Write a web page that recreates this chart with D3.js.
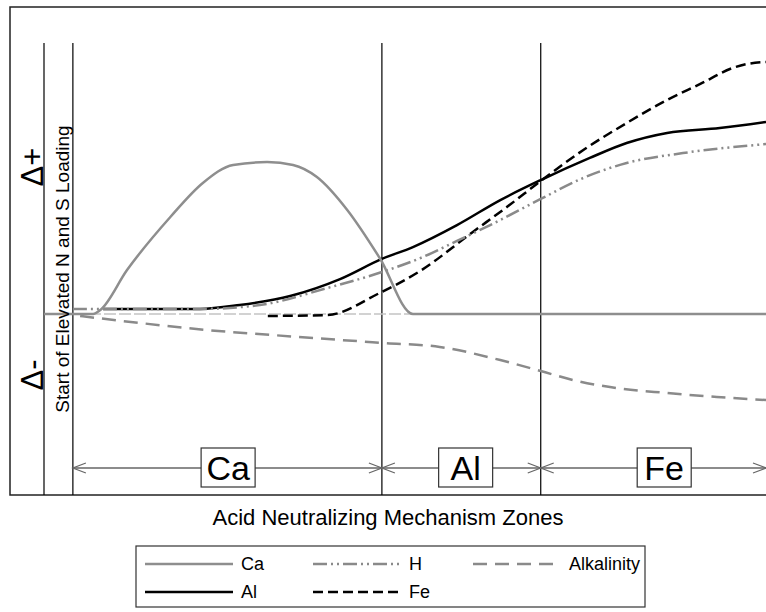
<!DOCTYPE html>
<html>
<head>
<meta charset="utf-8">
<script src="https://cdn.jsdelivr.net/npm/d3@7"></script>
<style>
  body { margin: 0; background: #fff; }
  text { font-family: "Liberation Sans", Arial, sans-serif; fill: #000; }
</style>
</head>
<body>
<div id="chart"></div>
<script>
// curves: [distance, relative change]
var caData = [[0,0],[6.8,0],[7.8,2.2],[11.5,24.4],[17.5,53.9],[22,72.8],[26.2,82.8],[30.9,84.4],[34.5,82.8],[37.8,76.1],[42,57.8],[46.5,31.1],[51.1,0],[100,0]];
var hData = [[4,2.8],[21.6,2.8],[29.9,5],[39.2,14.4],[46.8,23.3],[52.5,31.7],[57.2,40.6],[61.8,49.4],[68.8,63.9],[74.7,75.6],[80.7,83.9],[88.5,89.4],[100,94.4]];
var alkData = [[5,-1.1],[13.3,-5],[22.6,-8.9],[31.7,-11.7],[41,-14.4],[47,-16.1],[54.8,-18.3],[63.2,-25.6],[68.8,-31.7],[73.3,-36.7],[78.4,-40.6],[86.3,-43.9],[93.2,-46.1],[100,-47.8]];
var alData = [[8.2,2.8],[21.6,2.8],[27.1,5],[34.1,10],[41,19.4],[46.8,30.6],[51.1,37.2],[57.2,49.4],[63.2,63.3],[68.8,74.4],[75.6,86.7],[80.7,95],[86.3,100.6],[93.6,103.3],[100,106.7]];
var feData = [[31,-1.1],[39.2,-0.6],[46.5,11.7],[52.1,23.9],[59.4,45.6],[64.1,59.4],[68.8,73.9],[74.7,91.1],[80.7,106.1],[86.3,118.9],[90.9,127.8],[95.4,136.7],[97.4,138.9],[100,140]];

var zoneNames = ["Ca", "Al", "Fe"];
var zoneEdges = [4, 46.8, 68.8, 100];
var zoneLabelAt = [25.5, 58.4, 85.9];

var legendRows = [["Ca", "H", "Alkalinity"], ["Al", "Fe"]];

var w = 766, h = 612;
var svg = d3.select("#chart").append("svg").attr("width", w).attr("height", h);

var x = d3.scaleLinear().domain([0, 100]).range([44, 766]);
var y = d3.scaleLinear().domain([-100, 100]).range([494, 134]);

var styles = {
    "Ca": {stroke: "#8e8e8e", dash: null},
    "H": {stroke: "#8a8a8a", dash: "14,4,2,4,2,4"},
    "Alkalinity": {stroke: "#8a8a8a", dash: "14,8"},
    "Al": {stroke: "#000", dash: null},
    "Fe": {stroke: "#000", dash: "10,5"}
};

var frameTop = 7, frameBottom = 495, lineTop = 43, arrowY = 468;

// outer frame (right side runs off the page like the original)
svg.append("rect").attr("x", 10).attr("y", frameTop).attr("width", 820).attr("height", frameBottom - frameTop)
    .attr("fill", "none").attr("stroke", "#222").attr("stroke-width", 1.5);

// vertical guide lines
[0].concat(zoneEdges.slice(0, 3)).forEach(function (v) {
    svg.append("line").attr("x1", x(v)).attr("x2", x(v)).attr("y1", lineTop).attr("y2", frameBottom)
        .attr("stroke", "#000").attr("stroke-width", 1.2);
});

// zero line
svg.append("line").attr("x1", x(0)).attr("x2", x(100)).attr("y1", y(0)).attr("y2", y(0))
    .attr("stroke", "#c4c4c4").attr("stroke-width", 1.5).attr("stroke-dasharray", "12,3");

var line = d3.line().x(function (d) { return x(d[0]); }).y(function (d) { return y(d[1]); })
    .curve(d3.curveMonotoneX);

function drawSeries(data, name) {
    svg.append("path").datum(data).attr("d", line).attr("fill", "none")
        .attr("stroke", styles[name].stroke).attr("stroke-width", 2.5)
        .attr("stroke-dasharray", styles[name].dash);
}
drawSeries(alkData, "Alkalinity");
drawSeries(feData, "Fe");
drawSeries(alData, "Al");
drawSeries(hData, "H");
drawSeries(caData, "Ca");

// zone arrows
function arrowHead(px, dir) {
    svg.append("path")
        .attr("d", "M" + (px + dir * 13) + "," + (arrowY - 5) + "L" + px + "," + arrowY + "L" + (px + dir * 13) + "," + (arrowY + 5))
        .attr("fill", "none").attr("stroke", "#666").attr("stroke-width", 1.2);
}
zoneNames.forEach(function (name, i) {
    var x0 = x(zoneEdges[i]), x1 = x(zoneEdges[i + 1]);
    svg.append("line").attr("x1", x0).attr("x2", x1).attr("y1", arrowY).attr("y2", arrowY)
        .attr("stroke", "#666").attr("stroke-width", 1.5);
    arrowHead(x0, 1);
    arrowHead(x1, -1);
    var cx = x(zoneLabelAt[i]);
    svg.append("rect").attr("x", cx - 27).attr("y", arrowY - 20).attr("width", 54).attr("height", 39)
        .attr("fill", "#fff").attr("stroke", "#333").attr("stroke-width", 1.2);
    svg.append("text").attr("x", cx).attr("y", arrowY + 12).attr("text-anchor", "middle")
        .style("font-size", "34px").text(name);
});

// rotated labels
function vText(px, py, size, str) {
    svg.append("text").attr("transform", "translate(" + px + "," + py + ") rotate(-90)")
        .attr("text-anchor", "middle").style("font-size", size + "px").text(str);
}
vText(43, 167, 31, "\u0394+");
vText(43, 375, 31, "\u0394-");
vText(69, 269, 19, "Start of Elevated N and S Loading");

svg.append("text").attr("x", 388).attr("y", 525).attr("text-anchor", "middle")
    .style("font-size", "22px").text("Acid Neutralizing Mechanism Zones");

// legend
var lg = svg.append("g");
lg.append("rect").attr("x", 136).attr("y", 546).attr("width", 509).attr("height", 61)
    .attr("fill", "#fff").attr("stroke", "#333").attr("stroke-width", 1.2);
var colX = [145, 313, 473], rowY = [564, 592];
legendRows.forEach(function (row, r) {
    row.forEach(function (name, c) {
        lg.append("line").attr("x1", colX[c]).attr("x2", colX[c] + 88).attr("y1", rowY[r]).attr("y2", rowY[r])
            .attr("stroke", styles[name].stroke).attr("stroke-width", 2.5)
            .attr("stroke-dasharray", styles[name].dash);
        lg.append("text").attr("x", colX[c] + 96).attr("y", rowY[r] + 6).style("font-size", "18px").text(name);
    });
});
</script>
</body>
</html>
